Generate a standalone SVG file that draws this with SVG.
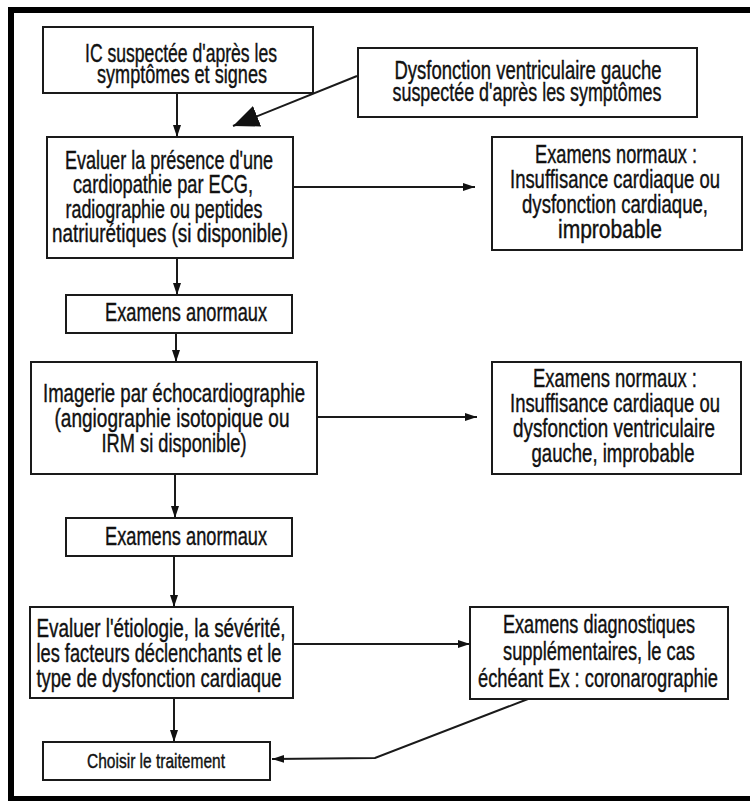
<svg xmlns="http://www.w3.org/2000/svg" width="750" height="801" viewBox="0 0 750 801">
<style>
.box{fill:#fff;stroke:#1a1a1a;stroke-width:2}
.t{font-family:"Liberation Sans",Arial,sans-serif;font-size:25px;fill:#111;stroke:#111;stroke-width:0.4;text-anchor:middle}
.s{font-size:21px}
.c{fill:none;stroke:#1a1a1a;stroke-width:2}
</style>
<defs>
<marker id="a" markerWidth="12" markerHeight="10" refX="12" refY="5" orient="auto" markerUnits="userSpaceOnUse"><path d="M0,1 L12,5 L0,9 Z" fill="#111"/></marker>
<marker id="b" markerWidth="26" markerHeight="22" refX="26" refY="11" orient="auto" markerUnits="userSpaceOnUse"><path d="M0,0 L26,11 L0,22 Z" fill="#111"/></marker>
</defs>
<rect width="750" height="801" fill="#fff"/>
<path d="M760 10 H11 V799 H760" fill="none" stroke="#000" stroke-width="6"/>
<g id="connectors">
<line class="c" x1="177" y1="93" x2="177" y2="137" marker-end="url(#a)"/>
<line class="c" x1="357" y1="76" x2="233" y2="126" marker-end="url(#b)"/>
<line class="c" x1="293" y1="187" x2="475" y2="187" marker-end="url(#a)"/>
<line class="c" x1="177" y1="258" x2="177" y2="295" marker-end="url(#a)"/>
<line class="c" x1="176" y1="333" x2="176" y2="362" marker-end="url(#a)"/>
<line class="c" x1="317" y1="417" x2="477" y2="417" marker-end="url(#a)"/>
<line class="c" x1="175" y1="474" x2="175" y2="518" marker-end="url(#a)"/>
<line class="c" x1="174" y1="556" x2="174" y2="607" marker-end="url(#a)"/>
<line class="c" x1="293" y1="644" x2="470" y2="644" marker-end="url(#a)"/>
<line class="c" x1="174" y1="698" x2="174" y2="742" marker-end="url(#a)"/>
<polyline class="c" points="528,699 375,758 272,759" marker-end="url(#a)"/>
</g>
<g id="n1">
<rect class="box" x="43" y="27" width="270" height="66"/>
<text class="t" x="181" y="62" textLength="192" lengthAdjust="spacingAndGlyphs">IC suspectée d'après les</text>
<text class="t" x="182" y="83" textLength="170" lengthAdjust="spacingAndGlyphs">symptômes et signes</text>
</g>
<g id="n2">
<rect class="box" x="358" y="48" width="339" height="69"/>
<text class="t" x="528" y="79" textLength="267" lengthAdjust="spacingAndGlyphs">Dysfonction ventriculaire gauche</text>
<text class="t" x="527" y="101" textLength="269" lengthAdjust="spacingAndGlyphs">suspectée d'après les symptômes</text>
</g>
<g id="n3">
<rect class="box" x="47" y="137" width="246" height="121"/>
<text class="t" x="169" y="169" textLength="208" lengthAdjust="spacingAndGlyphs">Evaluer la présence d'une</text>
<text class="t" x="163" y="193" textLength="180" lengthAdjust="spacingAndGlyphs">cardiopathie par ECG,</text>
<text class="t" x="164" y="218" textLength="197" lengthAdjust="spacingAndGlyphs">radiographie ou peptides</text>
<text class="t" x="170" y="242" textLength="236" lengthAdjust="spacingAndGlyphs">natriurétiques (si disponible)</text>
</g>
<g id="n4">
<rect class="box" x="492" y="137" width="250" height="113"/>
<text class="t" x="616" y="163" textLength="162" lengthAdjust="spacingAndGlyphs">Examens normaux :</text>
<text class="t" x="615" y="188" textLength="210" lengthAdjust="spacingAndGlyphs">Insuffisance cardiaque ou</text>
<text class="t" x="615" y="213" textLength="186" lengthAdjust="spacingAndGlyphs">dysfonction cardiaque,</text>
<text class="t" x="610" y="238" textLength="104" lengthAdjust="spacingAndGlyphs">improbable</text>
</g>
<g id="n5">
<rect class="box" x="66" y="295" width="226" height="38"/>
<text class="t" x="186" y="321" textLength="162" lengthAdjust="spacingAndGlyphs">Examens anormaux</text>
</g>
<g id="n6">
<rect class="box" x="31" y="362" width="286" height="112"/>
<text class="t" x="174" y="402" textLength="262" lengthAdjust="spacingAndGlyphs">Imagerie par échocardiographie</text>
<text class="t" x="172" y="427" textLength="235" lengthAdjust="spacingAndGlyphs">(angiographie isotopique ou</text>
<text class="t" x="174" y="452" textLength="145" lengthAdjust="spacingAndGlyphs">IRM si disponible)</text>
</g>
<g id="n7">
<rect class="box" x="492" y="362" width="249" height="112"/>
<text class="t" x="615" y="387" textLength="164" lengthAdjust="spacingAndGlyphs">Examens normaux :</text>
<text class="t" x="615" y="412" textLength="210" lengthAdjust="spacingAndGlyphs">Insuffisance cardiaque ou</text>
<text class="t" x="614" y="437" textLength="202" lengthAdjust="spacingAndGlyphs">dysfonction ventriculaire</text>
<text class="t" x="613" y="462" textLength="163" lengthAdjust="spacingAndGlyphs">gauche, improbable</text>
</g>
<g id="n8">
<rect class="box" x="66" y="518" width="226" height="38"/>
<text class="t" x="186" y="545" textLength="162" lengthAdjust="spacingAndGlyphs">Examens anormaux</text>
</g>
<g id="n9">
<rect class="box" x="30" y="607" width="263" height="91"/>
<text class="t" x="161" y="637" textLength="249" lengthAdjust="spacingAndGlyphs">Evaluer l'étiologie, la sévérité,</text>
<text class="t" x="159" y="662" textLength="245" lengthAdjust="spacingAndGlyphs">les facteurs déclenchants et le</text>
<text class="t" x="159" y="687" textLength="245" lengthAdjust="spacingAndGlyphs">type de dysfonction cardiaque</text>
</g>
<g id="n10">
<rect class="box" x="470" y="607" width="258" height="92"/>
<text class="t" x="599" y="633" textLength="192" lengthAdjust="spacingAndGlyphs">Examens diagnostiques</text>
<text class="t" x="599" y="660" textLength="192" lengthAdjust="spacingAndGlyphs">supplémentaires, le cas</text>
<text class="t" x="598" y="687" textLength="240" lengthAdjust="spacingAndGlyphs">échéant Ex : coronarographie</text>
</g>
<g id="n11">
<rect class="box" x="43" y="742" width="227" height="38"/>
<text class="t s" x="156" y="768" textLength="138" lengthAdjust="spacingAndGlyphs">Choisir le traitement</text>
</g>
</svg>
